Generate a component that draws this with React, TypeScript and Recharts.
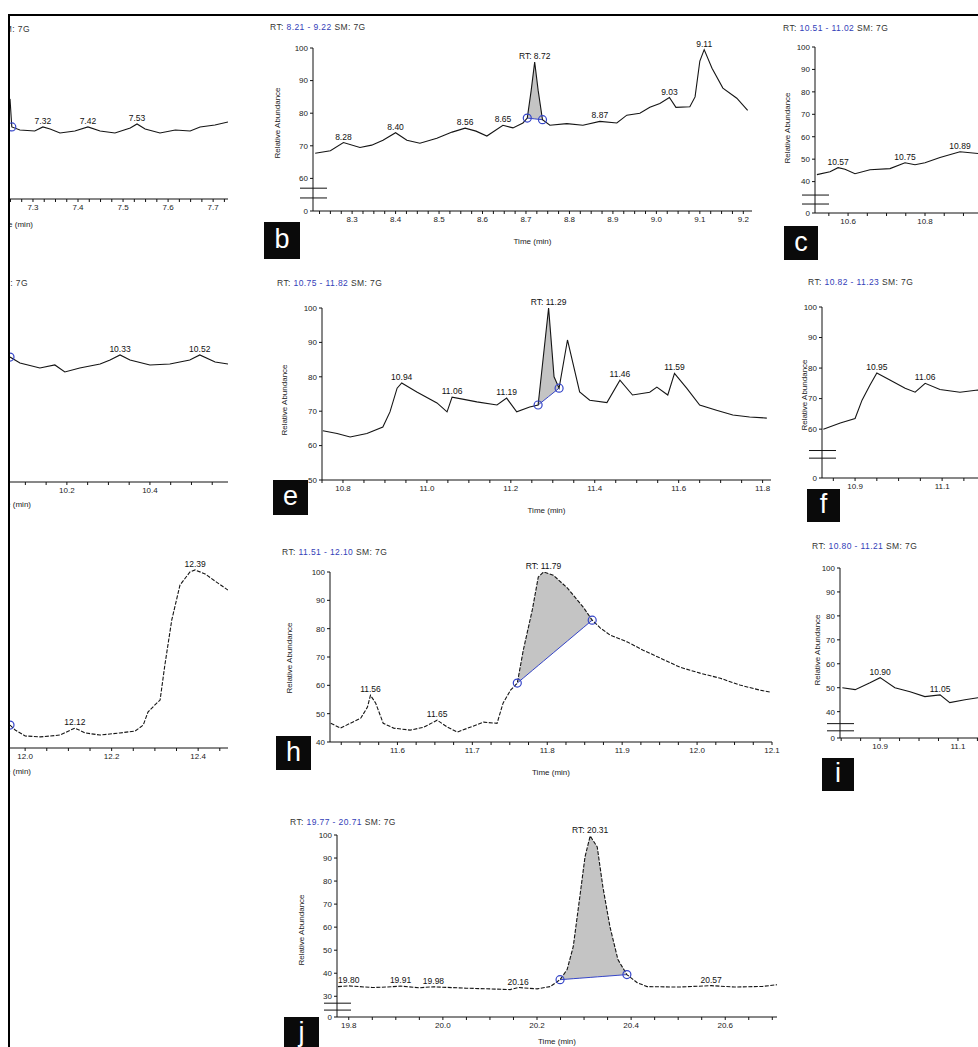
import React from 'react';
import { ComposedChart, Line, Area, XAxis, YAxis, ReferenceDot, ReferenceLine } from 'recharts';

const BLUE = '#3545c8';

// ---------- panel a (left, cut) ----------
const aTimes = [7.249, 7.253, 7.271, 7.304, 7.322, 7.338, 7.36, 7.393, 7.422, 7.449, 7.482, 7.516, 7.531, 7.549, 7.582, 7.616, 7.649, 7.671, 7.704, 7.733];
const aValues = [65, 46.8, 44.8, 44.2, 46.8, 45.5, 42.9, 44.2, 46.8, 44.2, 42.9, 46.1, 48.7, 45.5, 42.9, 44.8, 44.2, 46.8, 48.1, 50];
const aPeaks = [4, 8, 12];
const aXMajor = [7.3, 7.4, 7.5, 7.6, 7.7];

// ---------- panel b ----------
const bTimes = [8.215, 8.25, 8.28, 8.318, 8.345, 8.371, 8.4, 8.426, 8.456, 8.495, 8.53, 8.56, 8.585, 8.61, 8.647, 8.67, 8.693, 8.703, 8.712, 8.72, 8.728, 8.738, 8.755, 8.794, 8.831, 8.87, 8.909, 8.932, 8.962, 8.985, 9.008, 9.03, 9.045, 9.077, 9.089, 9.1, 9.11, 9.128, 9.153, 9.185, 9.21];
const bValues = [67.7, 68.5, 71.0, 69.5, 70.2, 71.7, 74.0, 71.7, 70.8, 72.3, 74.2, 75.4, 74.5, 73.0, 76.3, 75.5, 77.0, 78.5, 87, 95.7, 87, 78.0, 76.3, 76.8, 76.3, 77.5, 77.0, 79.4, 80.0, 81.8, 83.0, 84.8, 81.8, 82.0, 85, 96, 99.5, 93.8, 87.7, 84.6, 80.9];
const bPeaks = [2, 6, 11, 14, 19, 25, 31, 36];
const bMain = 19;
const bShade = [17, 21];
const bXMajor = [8.3, 8.4, 8.5, 8.6, 8.7, 8.8, 8.9, 9.0, 9.1, 9.2];
const bYTicks = [50, 60, 70, 80, 90, 100];

// ---------- panel c (right, cut) ----------
const cTimes = [10.519, 10.553, 10.574, 10.592, 10.618, 10.657, 10.709, 10.748, 10.774, 10.8, 10.839, 10.891, 10.938, 10.995];
const cValues = [43.1, 44.4, 46.2, 45.5, 43.5, 45.3, 45.8, 48.4, 47.5, 48.4, 50.7, 53.3, 52.5, 54];
const cPeaks = [2, 7, 11];
const cXMajor = [10.6, 10.8];
const cYTicks = [26, 40, 50, 60, 70, 80, 90, 100];

// ---------- panel d (left, cut) ----------
const dTimes = [10.063, 10.087, 10.135, 10.171, 10.195, 10.231, 10.28, 10.304, 10.328, 10.352, 10.4, 10.448, 10.496, 10.52, 10.557, 10.588];
const dValues = [82.2, 78.3, 75, 77, 72.4, 75, 77.6, 80.3, 83.6, 80.3, 77, 77.6, 80.3, 83.6, 78.9, 77.6];
const dPeaks = [8, 13];
const dXMajor = [10.2, 10.4];

// ---------- panel e ----------
const eTimes = [10.752, 10.786, 10.817, 10.857, 10.895, 10.912, 10.929, 10.94, 10.976, 11.024, 11.048, 11.06, 11.085, 11.119, 11.167, 11.19, 11.214, 11.245, 11.265, 11.29, 11.303, 11.315, 11.335, 11.364, 11.388, 11.429, 11.46, 11.49, 11.531, 11.548, 11.574, 11.59, 11.619, 11.65, 11.69, 11.729, 11.769, 11.81];
const eValues = [64.3, 63.5, 62.5, 63.5, 65.4, 69.8, 76.7, 78.2, 75.6, 72.4, 69.8, 74.1, 73.5, 72.7, 71.8, 73.8, 69.8, 71.2, 71.8, 100, 80, 76.7, 90.7, 75.6, 73.2, 72.5, 79, 74.7, 75.5, 77, 74.7, 81, 76.7, 71.8, 70.3, 68.9, 68.3, 68];
const ePeaks = [7, 11, 15, 19, 26, 31];
const eMain = 19;
const eShade = [18, 21];
const eXMajor = [10.8, 11.0, 11.2, 11.4, 11.6, 11.8];
const eYTicks = [50, 60, 70, 80, 90, 100];

// ---------- panel f (right, cut) ----------
const fTimes = [10.827, 10.866, 10.9, 10.916, 10.934, 10.95, 10.98, 11.015, 11.038, 11.061, 11.095, 11.141, 11.182, 11.233];
const fValues = [60, 62, 63.5, 69.5, 74.4, 78.4, 76.1, 73.4, 72.1, 75, 73, 72.1, 72.8, 72];
const fPeaks = [5, 9];
const fXMajor = [10.9, 11.1];
const fYTicks = [44, 60, 70, 80, 90, 100];

// ---------- panel g (left, cut) ----------
const gTimes = [11.965, 11.977, 12.0, 12.035, 12.081, 12.115, 12.139, 12.173, 12.219, 12.254, 12.273, 12.284, 12.3, 12.312, 12.323, 12.339, 12.358, 12.381, 12.393, 12.416, 12.439, 12.469];
const gValues = [12.2, 9.6, 6.4, 5.9, 6.9, 10.6, 8.0, 6.9, 8.0, 9.0, 12.2, 19.1, 22.9, 25.5, 44.1, 68.1, 86.7, 93.6, 94.7, 92.6, 88.8, 84];
const gPeaks = [5, 18];
const gXMajor = [12.0, 12.2, 12.4];

// ---------- panel h ----------
const hTimes = [11.511, 11.524, 11.537, 11.551, 11.56, 11.564, 11.571, 11.581, 11.595, 11.617, 11.635, 11.653, 11.667, 11.68, 11.697, 11.715, 11.733, 11.741, 11.751, 11.76, 11.768, 11.78, 11.788, 11.795, 11.808, 11.827, 11.848, 11.86, 11.871, 11.884, 11.907, 11.928, 11.951, 11.977, 12.004, 12.031, 12.057, 12.084, 12.098];
const hValues = [46.6, 44.9, 46.6, 48.4, 52.3, 56.5, 53.7, 46.6, 44.9, 44.2, 45.2, 47.7, 45.2, 43.5, 45.2, 47, 46.6, 53.7, 58.3, 60.8, 72.4, 86.6, 98.2, 100, 98.9, 94.3, 87.6, 83, 80.2, 77.7, 75.3, 72.4, 69.6, 66.4, 64.3, 62.5, 60.1, 58.3, 57.6];
const hPeaks = [5, 11, 23];
const hMain = 23;
const hShade = [19, 27];
const hXMajor = [11.6, 11.7, 11.8, 11.9, 12.0, 12.1];
const hYTicks = [40, 50, 60, 70, 80, 90, 100];

// ---------- panel i (right, cut) ----------
const iTimes = [10.803, 10.836, 10.874, 10.9, 10.938, 10.977, 11.015, 11.054, 11.079, 11.118, 11.151, 11.208];
const iValues = [50, 49.2, 52.1, 54.2, 50, 48.3, 46.3, 47, 43.8, 45, 45.8, 45];
const iPeaks = [3, 7];
const iXMajor = [10.9, 11.1];
const iYTicks = [29, 40, 50, 60, 70, 80, 90, 100];

// ---------- panel j ----------
const jTimes = [19.777, 19.8, 19.85, 19.88, 19.91, 19.95, 19.98, 20.05, 20.1, 20.143, 20.16, 20.2, 20.228, 20.249, 20.264, 20.277, 20.291, 20.302, 20.313, 20.328, 20.34, 20.355, 20.372, 20.391, 20.413, 20.434, 20.5, 20.57, 20.62, 20.68, 20.71];
const jValues = [34.2, 34.5, 33.8, 34.0, 34.4, 33.7, 34.1, 33.5, 33.2, 32.9, 33.8, 33.2, 34.2, 37.2, 41.6, 51.5, 73.2, 90.5, 99.6, 94.8, 77.5, 60.2, 45.9, 39.4, 35.9, 34.2, 34.0, 34.6, 34.0, 34.3, 35];
const jPeaks = [1, 4, 6, 10, 18, 27];
const jMain = 18;
const jShade = [13, 23];
const jXMajor = [19.8, 20.0, 20.2, 20.4, 20.6];
const jYTicks = [21, 30, 40, 50, 60, 70, 80, 90, 100];

type Cfg = {
  times: number[];
  values: number[];
  peaks: number[];
  main: number;
  shade: number[] | null;
  circles: number[];
  xDomain: number[];
  xMajor: number[];
  xMinor: number;
  yDomain: number[];
  yTicks: number[];
  zeroLabel: boolean;
  breakVals: number[] | null;
  plot: { x0: number; x1: number; yTop: number; yBot: number };
  showY: boolean;
  timeLabel: boolean;
  dashed: boolean;
  xAxisH?: number;
};

function buildRows(times: number[], values: number[], shade: number[] | null) {
  return times.map((t, i) => {
    let range: number[] | null = null;
    let base: number | null = null;
    if (shade && i >= shade[0] && i <= shade[1]) {
      const t0 = times[shade[0]];
      const t1 = times[shade[1]];
      const b0 = values[shade[0]];
      const b1 = values[shade[1]];
      base = b0 + ((b1 - b0) * (t - t0)) / (t1 - t0);
      range = [base, values[i]];
    }
    return { t, v: values[i], range, base };
  });
}

function tickList(d: number[], step: number) {
  const out: number[] = [];
  for (let k = Math.ceil(d[0] / step - 1e-9); k * step <= d[1] + 1e-9; k++) {
    out.push(+(k * step).toFixed(4));
  }
  return out;
}

function Chromatogram({ c }: { c: Cfg }) {
  const rows = buildRows(c.times, c.values, c.shade);
  const { x0, x1, yTop, yBot } = c.plot;
  const xh = c.xAxisH ?? 33;
  const W = x1 - x0 + 60;
  const H = yBot - yTop + 25 + xh;
  const xt = tickList(c.xDomain, c.xMinor);
  const isMajor = (v: number) => c.xMajor.some((m) => Math.abs(m - v) < 1e-6);
  const pxPerUnit = (x1 - x0) / (c.xDomain[1] - c.xDomain[0]);
  const bx0 = c.xDomain[0] - 13 / pxPerUnit;
  const bx1 = c.xDomain[0] + 14 / pxPerUnit;
  return (
    <div style={{ position: 'absolute', left: x0 - 45, top: yTop - 20 }}>
      <ComposedChart width={W} height={H} data={rows} margin={{ top: 20, right: 15, bottom: 5, left: 5 }}>
        <XAxis
          dataKey="t"
          type="number"
          domain={c.xDomain}
          allowDataOverflow
          ticks={xt}
          interval={0}
          tickFormatter={(v: number) => (isMajor(v) ? v.toFixed(1) : '')}
          tick={{ fontSize: 8, fill: '#222' }}
          tickSize={3}
          tickLine={{ stroke: '#111' }}
          axisLine={{ stroke: '#111' }}
          stroke="#111"
          height={xh}
          label={c.timeLabel ? { value: 'Time (min)', position: 'insideBottom', offset: 0, fontSize: 8, fill: '#222' } : undefined}
        />
        <YAxis
          type="number"
          domain={c.yDomain}
          allowDataOverflow
          ticks={c.yTicks}
          interval={0}
          width={40}
          tickFormatter={(v: number) => (c.zeroLabel && Math.abs(v - c.yDomain[0]) < 1e-6 ? '0' : String(Math.round(v)))}
          tick={c.showY ? { fontSize: 8, fill: '#222' } : false}
          tickLine={c.showY ? { stroke: '#111' } : false}
          axisLine={c.showY ? { stroke: '#111' } : false}
          tickSize={3}
          stroke="#111"
        />
        {c.shade && (
          <Area type="linear" dataKey="range" fill="#c4c4c4" fillOpacity={1} stroke="none" isAnimationActive={false} connectNulls={false} />
        )}
        {c.shade && (
          <Line type="linear" dataKey="base" stroke={BLUE} strokeWidth={1} dot={false} isAnimationActive={false} connectNulls={false} />
        )}
        <Line
          type="linear"
          dataKey="v"
          stroke="#151515"
          strokeWidth={1.1}
          dot={false}
          isAnimationActive={false}
          strokeDasharray={c.dashed ? '4 1.5' : undefined}
        />
        {c.breakVals &&
          c.breakVals.map((bv, k) => (
            <ReferenceLine
              key={'br' + k}
              segment={[{ x: bx0, y: bv }, { x: bx1, y: bv }]}
              stroke="#111"
              strokeWidth={1}
              ifOverflow="visible"
            />
          ))}
        {c.circles.map((i) => (
          <ReferenceDot key={'c' + i} x={c.times[i]} y={c.values[i]} r={4} fill="none" stroke={BLUE} strokeWidth={1.2} />
        ))}
        {c.peaks.map((i) => (
          <ReferenceDot
            key={'p' + i}
            x={c.times[i]}
            y={c.values[i]}
            r={0}
            fill="none"
            stroke="none"
            label={{
              value: (i === c.main ? 'RT: ' : '') + c.times[i].toFixed(2),
              position: 'top',
              offset: 3,
              fontSize: 8.5,
              fill: '#111',
            }}
          />
        ))}
      </ComposedChart>
    </div>
  );
}

const panels: Cfg[] = [
  {
    times: aTimes, values: aValues, peaks: aPeaks, main: -1, shade: null, circles: [1],
    xDomain: [7.249, 7.733], xMajor: aXMajor, xMinor: 0.025, yDomain: [0, 100], yTicks: [], zeroLabel: false,
    breakVals: null, plot: { x0: 10, x1: 228, yTop: 45, yBot: 199 }, showY: false, timeLabel: false, dashed: false,
  },
  {
    times: bTimes, values: bValues, peaks: bPeaks, main: bMain, shade: bShade, circles: bShade,
    xDomain: [8.21, 9.22], xMajor: bXMajor, xMinor: 0.025, yDomain: [50, 100], yTicks: bYTicks, zeroLabel: true,
    breakVals: [57, 54], plot: { x0: 313, x1: 752, yTop: 48, yBot: 211 }, showY: true, timeLabel: true, dashed: false,
  },
  {
    times: cTimes, values: cValues, peaks: cPeaks, main: -1, shade: null, circles: [],
    xDomain: [10.514, 10.995], xMajor: cXMajor, xMinor: 0.05, yDomain: [26, 100], yTicks: cYTicks, zeroLabel: true,
    breakVals: [34, 30], plot: { x0: 815, x1: 1000, yTop: 47, yBot: 213 }, showY: true, timeLabel: false, dashed: false,
  },
  {
    times: dTimes, values: dValues, peaks: dPeaks, main: -1, shade: null, circles: [0],
    xDomain: [10.063, 10.588], xMajor: dXMajor, xMinor: 0.05, yDomain: [0, 100], yTicks: [], zeroLabel: false,
    breakVals: null, plot: { x0: 10, x1: 228, yTop: 330, yBot: 482 }, showY: false, timeLabel: false, dashed: false,
  },
  {
    times: eTimes, values: eValues, peaks: ePeaks, main: eMain, shade: eShade, circles: eShade,
    xDomain: [10.75, 11.82], xMajor: eXMajor, xMinor: 0.05, yDomain: [50, 100], yTicks: eYTicks, zeroLabel: false,
    breakVals: null, plot: { x0: 322, x1: 771, yTop: 308, yBot: 480 }, showY: true, timeLabel: true, dashed: false,
  },
  {
    times: fTimes, values: fValues, peaks: fPeaks, main: -1, shade: null, circles: [],
    xDomain: [10.824, 11.233], xMajor: fXMajor, xMinor: 0.05, yDomain: [44, 100], yTicks: fYTicks, zeroLabel: true,
    breakVals: [53, 50.5], plot: { x0: 822, x1: 1000, yTop: 307, yBot: 478 }, showY: true, timeLabel: false, dashed: false,
  },
  {
    times: gTimes, values: gValues, peaks: gPeaks, main: -1, shade: null, circles: [0],
    xDomain: [11.965, 12.469], xMajor: gXMajor, xMinor: 0.05, yDomain: [0, 100], yTicks: [], zeroLabel: false,
    breakVals: null, plot: { x0: 10, x1: 228, yTop: 560, yBot: 748 }, showY: false, timeLabel: false, dashed: true,
  },
  {
    times: hTimes, values: hValues, peaks: hPeaks, main: hMain, shade: hShade, circles: hShade,
    xDomain: [11.51, 12.1], xMajor: hXMajor, xMinor: 0.025, yDomain: [40, 100], yTicks: hYTicks, zeroLabel: false,
    breakVals: null, plot: { x0: 330, x1: 772, yTop: 572, yBot: 742 }, showY: true, timeLabel: true, dashed: true,
  },
  {
    times: iTimes, values: iValues, peaks: iPeaks, main: -1, shade: null, circles: [],
    xDomain: [10.797, 11.208], xMajor: iXMajor, xMinor: 0.05, yDomain: [29, 100], yTicks: iYTicks, zeroLabel: true,
    breakVals: [35, 32], plot: { x0: 840, x1: 1000, yTop: 568, yBot: 738 }, showY: true, timeLabel: false, dashed: false,
  },
  {
    times: jTimes, values: jValues, peaks: jPeaks, main: jMain, shade: jShade, circles: jShade,
    xDomain: [19.775, 20.71], xMajor: jXMajor, xMinor: 0.05, yDomain: [21, 100], yTicks: jYTicks, zeroLabel: true,
    breakVals: [27, 24], plot: { x0: 337, x1: 777, yTop: 835, yBot: 1017 }, showY: true, timeLabel: true, dashed: true,
    xAxisH: 27,
  },
];

const titleRanges = [
  { d: [7.24, 7.73], left: undefined as number | undefined, rightEdge: 30, top: 24 },
  { d: [8.21, 9.22], left: 270, rightEdge: 0, top: 22 },
  { d: [10.51, 11.02], left: 783, rightEdge: 0, top: 23 },
  { d: [10.06, 10.59], left: undefined, rightEdge: 28, top: 278 },
  { d: [10.75, 11.82], left: 277, rightEdge: 0, top: 278 },
  { d: [10.82, 11.23], left: 808, rightEdge: 0, top: 277 },
  { d: [11.51, 12.1], left: 282, rightEdge: 0, top: 547 },
  { d: [10.8, 11.21], left: 812, rightEdge: 0, top: 541 },
  { d: [19.77, 20.71], left: 290, rightEdge: 0, top: 817 },
];

const letters = [
  { ch: 'b', left: 264, top: 222, w: 36, h: 37 },
  { ch: 'c', left: 784, top: 226, w: 34, h: 34 },
  { ch: 'e', left: 273, top: 480, w: 35, h: 35 },
  { ch: 'f', left: 807, top: 489, w: 33, h: 33 },
  { ch: 'h', left: 276, top: 736, w: 35, h: 34 },
  { ch: 'i', left: 822, top: 758, w: 32, h: 33 },
  { ch: 'j', left: 284, top: 1017, w: 35, h: 32 },
];

const yLabels = [
  { cx: 278, cy: 123 },
  { cx: 788, cy: 128 },
  { cx: 285, cy: 400 },
  { cx: 805, cy: 395 },
  { cx: 290, cy: 658 },
  { cx: 818, cy: 650 },
  { cx: 302, cy: 930 },
];

const timeFragments = [
  { rightEdge: 33, top: 220 },
  { rightEdge: 31, top: 500 },
  { rightEdge: 31, top: 767 },
];

function Title({ t }: { t: (typeof titleRanges)[number] }) {
  const style: React.CSSProperties = {
    position: 'absolute',
    top: t.top,
    fontSize: 8.5,
    whiteSpace: 'nowrap',
    letterSpacing: 0.4,
    color: '#333',
  };
  if (t.left !== undefined) style.left = t.left;
  else style.right = 978 - t.rightEdge;
  return (
    <div style={style}>
      <span>RT: </span>
      <span style={{ color: '#3340b8' }}>
        {t.d[0].toFixed(2)} - {t.d[1].toFixed(2)}
      </span>
      <span>{'  '}SM: 7G</span>
    </div>
  );
}

export default function App() {
  return (
    <div
      style={{
        position: 'absolute',
        left: 0,
        top: 0,
        width: 978,
        height: 1047,
        overflow: 'hidden',
        background: '#fff',
        fontFamily: 'Arial, "Liberation Sans", sans-serif',
      }}
    >
      <div
        style={{
          position: 'absolute',
          left: 8,
          top: 14,
          width: 1000,
          height: 1100,
          borderLeft: '2px solid #000',
          borderTop: '2px solid #000',
        }}
      />
      <div style={{ position: 'absolute', left: 10, top: 16, width: 968, height: 1031, overflow: 'hidden' }}>
        <div style={{ position: 'absolute', left: -10, top: -16, width: 978, height: 1047 }}>
          {panels.map((p, k) => (
            <Chromatogram key={k} c={p} />
          ))}
          {titleRanges.map((t, k) => (
            <Title key={k} t={t} />
          ))}
          {yLabels.map((y, k) => (
            <div
              key={k}
              style={{
                position: 'absolute',
                left: y.cx - 70,
                top: y.cy - 5,
                width: 140,
                height: 10,
                lineHeight: '10px',
                textAlign: 'center',
                fontSize: 8,
                color: '#222',
                transform: 'rotate(-90deg)',
                whiteSpace: 'nowrap',
              }}
            >
              Relative Abundance
            </div>
          ))}
          {timeFragments.map((f, k) => (
            <div
              key={k}
              style={{
                position: 'absolute',
                right: 978 - f.rightEdge,
                top: f.top,
                fontSize: 8,
                color: '#222',
                whiteSpace: 'nowrap',
              }}
            >
              Time (min)
            </div>
          ))}
          {letters.map((l) => (
            <div
              key={l.ch}
              style={{
                position: 'absolute',
                left: l.left,
                top: l.top,
                width: l.w,
                height: l.h,
                background: '#0a0a0a',
                color: '#fff',
                fontSize: 27,
                lineHeight: l.h - 2 + 'px',
                textAlign: 'center',
              }}
            >
              {l.ch}
            </div>
          ))}
        </div>
      </div>
    </div>
  );
}
